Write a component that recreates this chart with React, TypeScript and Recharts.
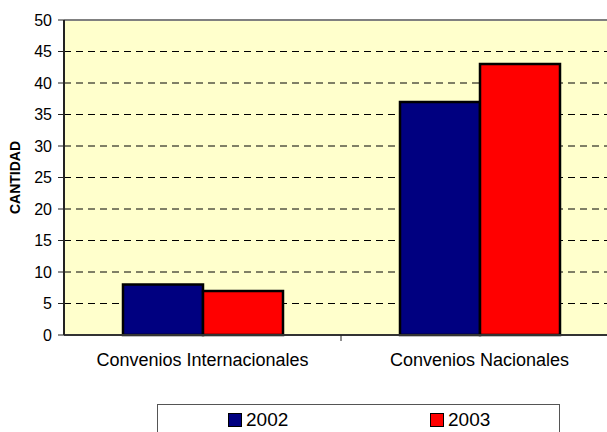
import React from "react"
import {
  BarChart,
  Bar,
  XAxis,
  YAxis,
  CartesianGrid,
  ReferenceLine,
  Legend,
} from "recharts"

const categories = ["Convenios Internacionales", "Convenios Nacionales"]
const values2002 = [8, 37]
const values2003 = [7, 43]
const yTicks = [0, 5, 10, 15, 20, 25, 30, 35, 40, 45, 50]
const seriesNames = ["2002", "2003"]

const FONT = "'Liberation Sans', Arial, sans-serif"
const NAVY = "#000080"
const RED = "#FF0000"

const data = categories.map((name, i) => ({
  name,
  a: values2002[i],
  b: values2003[i],
}))

function LegendBox() {
  const items = [
    { name: seriesNames[0], color: NAVY, left: 70 },
    { name: seriesNames[1], color: RED, left: 272 },
  ]
  return (
    <div
      style={{
        position: "relative",
        width: "100%",
        height: "100%",
        border: "1px solid #555",
        boxSizing: "border-box",
        background: "#fff",
        fontFamily: FONT,
      }}
    >
      {items.map((it) => (
        <div
          key={it.name}
          style={{
            position: "absolute",
            left: it.left,
            top: 4,
            display: "flex",
            alignItems: "center",
            fontSize: 19,
            lineHeight: "22px",
            color: "#000",
          }}
        >
          <span
            style={{
              width: 14,
              height: 14,
              background: it.color,
              border: "1.5px solid #000",
              boxSizing: "border-box",
              marginRight: 4,
            }}
          />
          {it.name}
        </div>
      ))}
    </div>
  )
}

// tick at the category centre plus a short mark on the boundary between categories
function CategoryTick(props: any) {
  const { x, y, payload, index } = props
  const half = payload.offset || 0
  return (
    <g>
      {index === 0 && (
        <line x1={x + half} x2={x + half} y1={y - 18} y2={y - 12} stroke="#222" />
      )}
      <text
        x={x}
        y={y}
        dy="0.71em"
        textAnchor="middle"
        fontFamily={FONT}
        fontSize={18}
        fill="#000"
      >
        {payload.value}
      </text>
    </g>
  )
}

export default function App() {
  return (
    <div
      style={{
        position: "absolute",
        left: 0,
        top: 0,
        width: 607,
        height: 432,
        overflow: "hidden",
        background: "#fff",
      }}
    >
      <BarChart
        width={640}
        height={432}
        data={data}
        margin={{ top: 20, right: 22, left: 0, bottom: 67 }}
        barCategoryGap={59}
        barGap={0}
      >
        <CartesianGrid
          vertical={false}
          stroke="#000"
          strokeDasharray="7 5"
          fill="#FFFFCC"
          fillOpacity={1}
        />
        <XAxis
          dataKey="name"
          height={30}
          axisLine={{ stroke: "#333", strokeWidth: 2 }}
          tickLine={false}
          tickSize={0}
          tickMargin={18}
          tick={<CategoryTick />}
          interval={0}
        />
        <YAxis
          width={64}
          domain={[0, 50]}
          ticks={yTicks}
          interval={0}
          tickSize={6}
          tickMargin={6}
          axisLine={{ stroke: "#222", strokeWidth: 2 }}
          tickLine={{ stroke: "#222" }}
          tick={{ fill: "#000", fontSize: 16, fontFamily: FONT }}
          label={{
            content: (props: any) => {
              const vb = props.viewBox
              const cx = vb.x + 15
              const cy = vb.y + vb.height / 2
              return (
                <text
                  x={cx}
                  y={cy}
                  transform={`rotate(-90 ${cx} ${cy})`}
                  textAnchor="middle"
                  dominantBaseline="central"
                  fontFamily={FONT}
                  fontWeight="bold"
                  fontSize={14}
                  fill="#000"
                >
                  CANTIDAD
                </text>
              )
            },
          }}
        />
        <ReferenceLine y={50} stroke="#808080" strokeWidth={2} ifOverflow="visible" />
        <Bar
          dataKey="a"
          name={seriesNames[0]}
          fill={NAVY}
          stroke="#000"
          strokeWidth={2.5}
          isAnimationActive={false}
        />
        <Bar
          dataKey="b"
          name={seriesNames[1]}
          fill={RED}
          stroke="#000"
          strokeWidth={2.5}
          isAnimationActive={false}
        />
        <Legend
          verticalAlign="middle"
          layout="horizontal"
          wrapperStyle={{ left: 157, top: 404, width: 403, height: 40 }}
          content={() => <LegendBox />}
        />
      </BarChart>
    </div>
  )
}
